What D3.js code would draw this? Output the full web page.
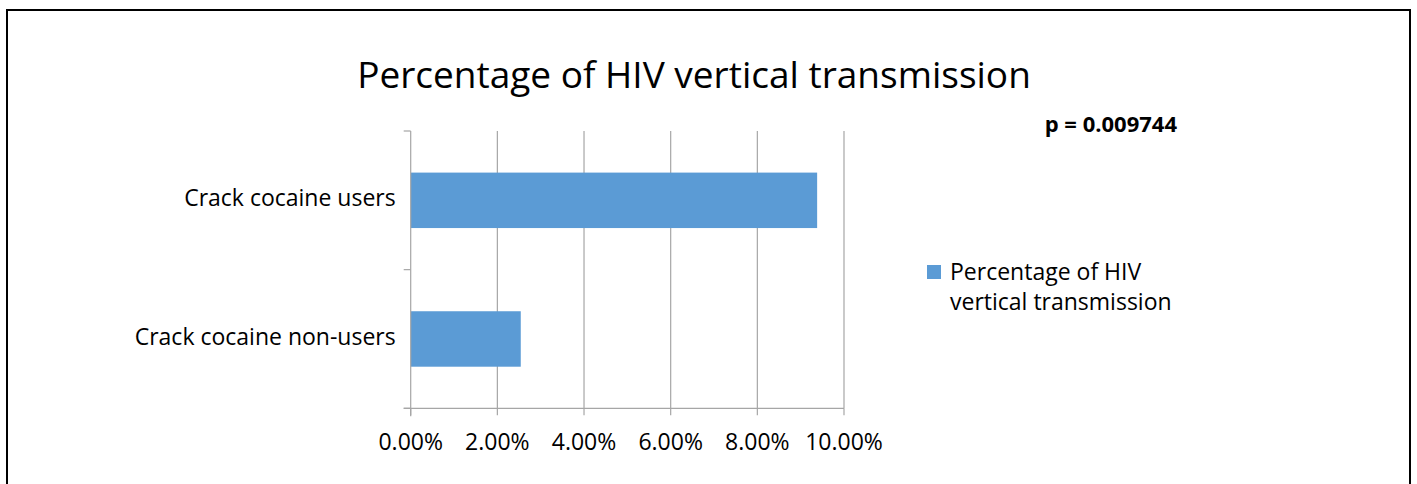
<!DOCTYPE html>
<html>
<head>
<meta charset="utf-8">
<script src="https://cdn.jsdelivr.net/npm/d3@7"></script>
<style>
  body { margin: 0; background: #fff; }
  text { font-family: "Open Sans", sans-serif; fill: #000; }
</style>
</head>
<body>
<div class="canva"></div>
<script>
// data
const categories = ['Crack cocaine users', 'Crack cocaine non-users'];
const values = [0.0938, 0.0254];
const xTicks = [0, 0.02, 0.04, 0.06, 0.08, 0.10];
const legendLines = ['Percentage of HIV', 'vertical transmission'];
const chartTitle = 'Percentage of HIV vertical transmission';
const pText = 'p = 0.009744';

const W = 1417, H = 484;
const svg = d3.select('.canva').append('svg')
  .attr('width', W)
  .attr('height', H);

// frame
svg.append('rect')
  .attr('x', 7).attr('y', 10)
  .attr('width', 1403).attr('height', H)
  .attr('fill', '#fff')
  .attr('stroke', '#000')
  .attr('stroke-width', 2);

const margin = { top: 131, left: 410.7, right: 844, bottom: 408.3 };

const x = d3.scaleLinear()
  .domain([0, 0.10])
  .range([margin.left, margin.right]);

const y = d3.scaleBand()
  .domain(categories)
  .range([margin.top, margin.bottom])
  .paddingInner(0.6)
  .paddingOuter(0.3);

// gridlines
svg.append('g')
  .selectAll('line')
  .data(xTicks.slice(1))
  .enter().append('line')
  .attr('x1', d => x(d)).attr('x2', d => x(d))
  .attr('y1', margin.top).attr('y2', margin.bottom)
  .attr('stroke', '#a6a6a6')
  .attr('stroke-width', 1.2);

// bars
svg.append('g')
  .selectAll('rect')
  .data(values)
  .enter().append('rect')
  .attr('x', x(0))
  .attr('y', (d, i) => y(categories[i]))
  .attr('width', d => x(d) - x(0))
  .attr('height', y.bandwidth())
  .attr('fill', '#5b9bd5');

// y axis
const yAxis = svg.append('g')
  .attr('transform', `translate(${x(0)},0)`);
yAxis.append('line')
  .attr('x1', 0).attr('x2', 0)
  .attr('y1', margin.top).attr('y2', margin.bottom + 8)
  .attr('stroke', '#a6a6a6').attr('stroke-width', 1.2);
const yTickPos = [margin.top, (margin.top + margin.bottom) / 2, margin.bottom];
yAxis.selectAll('.yt')
  .data(yTickPos)
  .enter().append('line')
  .attr('x1', -7).attr('x2', 0)
  .attr('y1', d => d).attr('y2', d => d)
  .attr('stroke', '#a6a6a6').attr('stroke-width', 1.2);
yAxis.selectAll('.yl')
  .data(categories)
  .enter().append('text')
  .attr('x', -15)
  .attr('y', d => y(d) + y.bandwidth() / 2 - 2)
  .attr('dy', '0.35em')
  .attr('text-anchor', 'end')
  .attr('font-size', 23)
  .text(d => d);

// x axis
const xAxis = svg.append('g')
  .attr('transform', `translate(0,${margin.bottom})`);
xAxis.append('line')
  .attr('x1', x(0) - 7).attr('x2', x(0.10))
  .attr('stroke', '#a6a6a6').attr('stroke-width', 1.2);
xAxis.selectAll('.xt')
  .data(xTicks)
  .enter().append('line')
  .attr('x1', d => x(d)).attr('x2', d => x(d))
  .attr('y1', 0).attr('y2', 7)
  .attr('stroke', '#a6a6a6').attr('stroke-width', 1.2);
xAxis.selectAll('.xl')
  .data(xTicks)
  .enter().append('text')
  .attr('x', d => x(d))
  .attr('y', 42)
  .attr('text-anchor', 'middle')
  .attr('font-size', 23)
  .text(d => d3.format('.2%')(d));

// title
svg.append('text')
  .attr('x', 694).attr('y', 88)
  .attr('text-anchor', 'middle')
  .attr('font-size', 37)
  .text(chartTitle);

// p value
svg.append('text')
  .attr('x', 1177).attr('y', 132)
  .attr('text-anchor', 'end')
  .attr('font-size', 22)
  .attr('font-weight', 'bold')
  .text(pText);

// legend
const legend = svg.append('g');
legend.append('rect')
  .attr('x', 927).attr('y', 265)
  .attr('width', 14).attr('height', 14)
  .attr('fill', '#5b9bd5');
legend.selectAll('.lg')
  .data(legendLines)
  .enter().append('text')
  .attr('x', 950)
  .attr('y', (d, i) => 280 + i * 30)
  .attr('font-size', 23)
  .text(d => d);
</script>
</body>
</html>
